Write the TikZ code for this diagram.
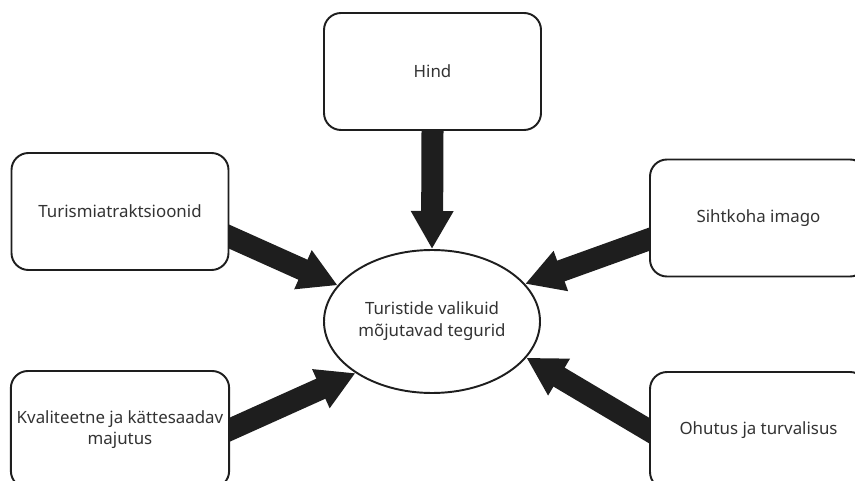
\documentclass[tikz,border=0pt]{standalone}
\usepackage{fontspec}
\setmainfont{Noto Sans}
\usepackage{tikz}
\usetikzlibrary{arrows.meta,shapes.geometric,backgrounds}

\definecolor{inkgray}{HTML}{333333}
\definecolor{linegray}{HTML}{1E1E1E}

\begin{document}
\begin{tikzpicture}[
    factor/.style={draw=linegray, fill=white, line width=1.1pt, rounded corners=0.34cm,
        minimum width=4.34cm, minimum height=2.34cm, align=center, text=inkgray,
        font=\fontsize{9.6}{12}\selectfont},
    topic/.style={ellipse, draw=linegray, fill=white, line width=1.1pt, inner sep=0pt,
        minimum width=4.32cm, minimum height=2.86cm, align=center, text=inkgray,
        font=\fontsize{9.6}{12.4}\selectfont},
    push/.style={line width=0.44cm, draw=linegray, shorten <=-0.2cm,
        -{Triangle[length=0.76cm,width=0.8cm]}}
]
\useasboundingbox (0,0) rectangle (17.1,-9.62);

\node[topic] (valik) at (8.64,-6.43) {Turistide valikuid\\mõjutavad tegurid};
\node[factor] (hind) at (8.65,-1.43) {Hind};
\node[factor] (atrak) at (2.40,-4.23) {Turismiatraktsioonid};
\node[factor] (majutus) at (2.40,-8.59) {Kvaliteetne ja kättesaadav\\majutus};
\node[factor] (imago) at (15.17,-4.36) {Sihtkoha imago};
\node[factor] (ohutus) at (15.17,-8.61) {Ohutus ja turvalisus};

% thick arrows into the centre
\begin{scope}[on background layer]
\draw[push] (hind.south) -- (valik.north);
\draw[push] (atrak.-13) -- (valik.159);
\draw[push] (majutus.east) -- (valik.214);
\draw[push] (imago.191) -- (valik.22);
\draw[push] (ohutus.west) -- (valik.-21);
\end{scope}
\end{tikzpicture}
\end{document}
